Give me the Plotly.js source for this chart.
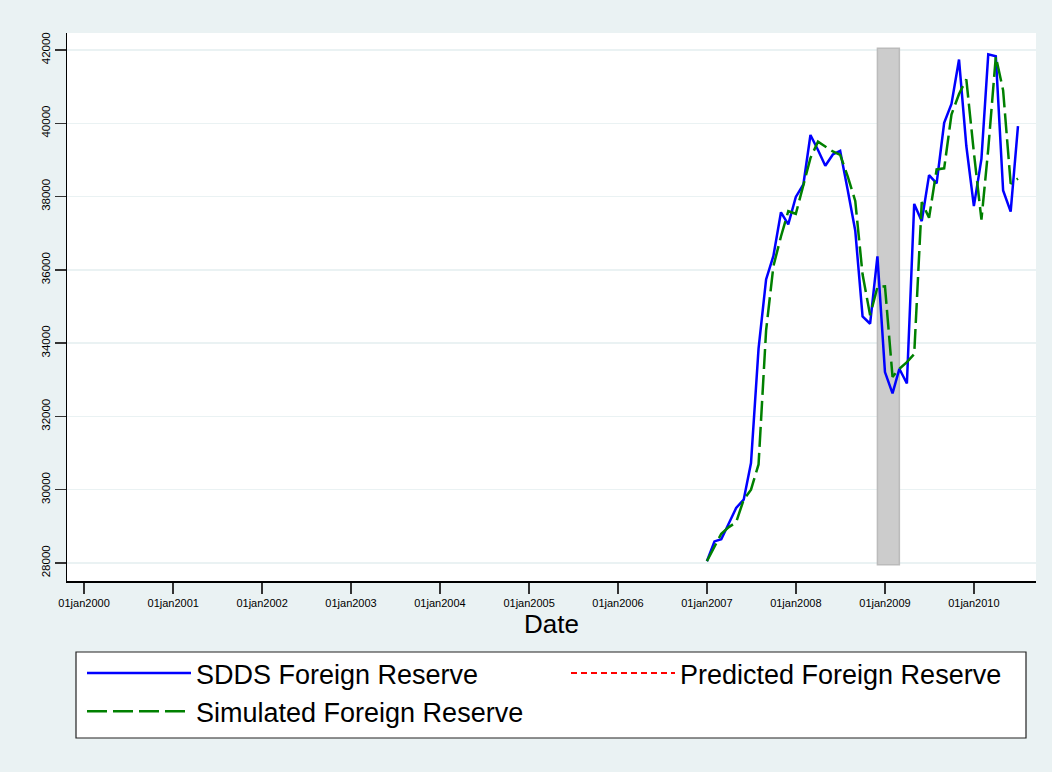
<!DOCTYPE html>
<html><head><meta charset="utf-8">
<script src="https://cdn.plot.ly/plotly-3.0.1.min.js"></script>
<style>html,body{margin:0;padding:0;background:#EAF2F3;} #chart{width:1052px;height:772px;}</style>
</head><body><div id="chart"></div>
<script>
const dates = [
  '2007-01-01','2007-02-01','2007-03-01','2007-04-01','2007-05-01','2007-06-01',
  '2007-07-01','2007-08-01','2007-09-01','2007-10-01','2007-11-01','2007-12-01',
  '2008-01-01','2008-02-01','2008-03-01','2008-04-01','2008-05-01','2008-06-01',
  '2008-07-01','2008-08-01','2008-09-01','2008-10-01','2008-11-01','2008-12-01',
  '2009-01-01','2009-02-01','2009-03-01','2009-04-01','2009-05-01','2009-06-01',
  '2009-07-01','2009-08-01','2009-09-01','2009-10-01','2009-11-01','2009-12-01',
  '2010-01-01','2010-02-01','2010-03-01','2010-04-01','2010-05-01','2010-06-01',
  '2010-07-01'
];
const sddsReserve = [
  28050, 28590, 28650, 29070, 29500, 29730,
  30730, 33850, 35740, 36380, 37570, 37240,
  37990, 38330, 39680, 39270, 38840, 39150,
  39250, 38180, 37070, 34730, 34530, 36370,
  33210, 32630, 33300, 32900, 37800, 37330,
  38585, 38360, 40015, 40530, 41740, 39380,
  37740, 39030, 41880, 41830, 38165, 37590,
  39920
];
const simulatedReserve = [
  28050, 28450, 28800, 28980, 29110, 29730,
  30000, 30690, 34350, 36100, 36910, 37600,
  37530, 38310, 39050, 39500, 39360, 39230,
  39140, 38550, 37880, 35880, 34760, 35530,
  35550, 33080, 33300, 33480, 33700, 37850,
  37420, 38740, 38770, 40240, 40800, 41200,
  39200, 37370, 39300, 41820, 40900, 38350,
  38490
];
// The predicted series has no visible values in the chart (legend entry only)
const predictedDates = ['2007-01-01'];
const predictedReserve = [null];
const shadeStart = '2008-12-01';
const shadeEnd = '2009-03-01';
const shadeRange = [27950, 42050];
const tickDates = ['2000-01-01','2001-01-01','2002-01-01','2003-01-01','2004-01-01','2005-01-01',
  '2006-01-01','2007-01-01','2008-01-01','2009-01-01','2010-01-01'];
const tickLabels = ['01jan2000','01jan2001','01jan2002','01jan2003','01jan2004','01jan2005',
  '01jan2006','01jan2007','01jan2008','01jan2009','01jan2010'];
const yTicks = [28000, 30000, 32000, 34000, 36000, 38000, 40000, 42000];
const seriesNames = ['SDDS Foreign Reserve', 'Predicted Foreign Reserve', 'Simulated Foreign Reserve'];

const FONT = 'Liberation Sans, Arial, sans-serif';
const W = 1052, H = 772, ML = 67, MR = 16, MT = 33, MB = 191;
const PW = W - ML - MR, PH = H - MT - MB;
// legend frame in pixels -> paper coordinates
const px2x = p => (p - ML) / PW;
const py2y = p => (H - MB - p) / PH;

const traces = [
  {x: dates, y: sddsReserve, type: 'scatter', mode: 'lines', name: seriesNames[0],
   line: {color: '#0000FF', width: 2.5}, legend: 'legend'},
  {x: predictedDates, y: predictedReserve, type: 'scatter', mode: 'lines', name: seriesNames[1],
   line: {color: '#FF0000', width: 2, dash: '6px,4px'}, showlegend: true, legend: 'legend2'},
  {x: dates, y: simulatedReserve, type: 'scatter', mode: 'lines', name: seriesNames[2],
   line: {color: '#008000', width: 2.5, dash: '20px,6px'}, legend: 'legend'}
];
const legendBase = {
  orientation: 'v', xref: 'container', yref: 'container',
  xanchor: 'left', yanchor: 'top',
  bgcolor: 'rgba(0,0,0,0)', borderwidth: 0,
  font: {size: 27, family: FONT, color: '#000'},
  itemwidth: 104, traceorder: 'normal'
};
const layout = {
  width: W, height: H,
  paper_bgcolor: '#EAF2F3', plot_bgcolor: '#FFFFFF',
  margin: {l: ML, r: MR, t: MT, b: MB, autoexpand: false},
  font: {family: FONT, color: '#000'},
  showlegend: true,
  xaxis: {
    type: 'date', range: ['1999-10-23', '2010-09-13'],
    tickvals: tickDates, ticktext: tickLabels, tickangle: 0,
    ticks: 'outside', ticklen: 11, tickwidth: 1.5, tickcolor: '#333',
    tickfont: {size: 11, family: FONT, color: '#000'},
    showgrid: false, zeroline: false,
    showline: true, linecolor: '#000', linewidth: 1.5,
    title: {text: 'Date', font: {size: 26, family: FONT, color: '#000'}, standoff: 2}
  },
  yaxis: {
    range: [27509, 42464],
    tickvals: yTicks, ticktext: yTicks.map(String), tickangle: -90,
    ticks: 'outside', ticklen: 11, tickwidth: 1.5, tickcolor: '#333',
    tickfont: {size: 11.5, family: FONT, color: '#000'},
    showgrid: true, gridcolor: '#EAF2F3', gridwidth: 1.5,
    zeroline: false, showline: true, linecolor: '#000', linewidth: 1.5
  },
  shapes: [
    {type: 'rect', xref: 'x', yref: 'y', x0: shadeStart, x1: shadeEnd,
     y0: shadeRange[0], y1: shadeRange[1],
     fillcolor: '#CCCCCC', line: {color: '#BBBBBB', width: 1.5}, layer: 'between'},
    {type: 'rect', xref: 'paper', yref: 'paper',
     x0: px2x(76), x1: px2x(1026), y0: py2y(738), y1: py2y(652),
     fillcolor: '#FFFFFF', line: {color: '#222', width: 1.2}, layer: 'above'}
  ],
  legend: Object.assign({}, legendBase, {x: 82 / W, y: 1 - 649 / H}),
  legend2: Object.assign({}, legendBase, {x: 566 / W, y: 1 - 649 / H})
};
Plotly.newPlot('chart', traces, layout, {displayModeBar: false, staticPlot: true});
</script></body></html>
